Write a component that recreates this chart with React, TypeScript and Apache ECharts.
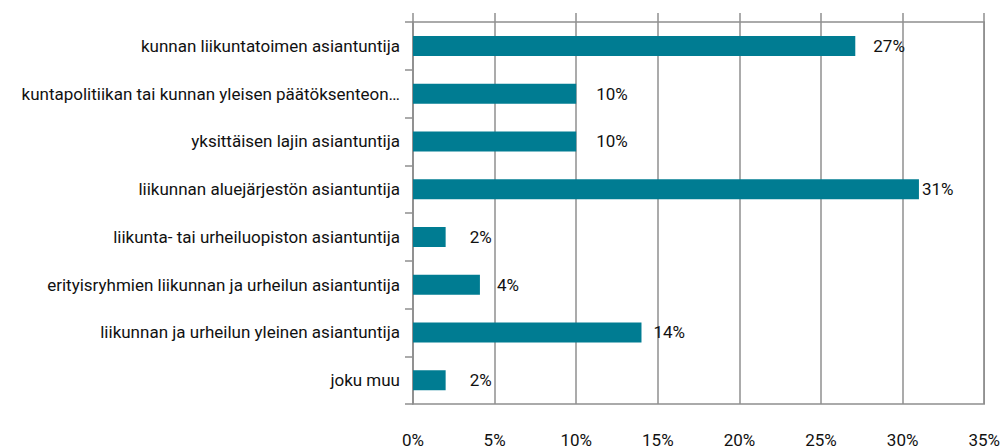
import React, { useEffect, useRef } from "react";
import * as echarts from "echarts";

const categories = [
  "kunnan liikuntatoimen asiantuntija",
  "kuntapolitiikan tai kunnan yleisen päätöksenteon…",
  "yksittäisen lajin asiantuntija",
  "liikunnan aluejärjestön asiantuntija",
  "liikunta- tai urheiluopiston asiantuntija",
  "erityisryhmien liikunnan ja urheilun asiantuntija",
  "liikunnan ja urheilun yleinen asiantuntija",
  "joku muu",
];
const values = [27.1, 10, 10, 31, 2, 4.1, 14, 2];
const valueLabels = ["27%", "10%", "10%", "31%", "2%", "4%", "14%", "2%"];
const xTicks = [0, 5, 10, 15, 20, 25, 30, 35];

// label gaps after bar end (styling)
const labelGaps = [18, 20, 20, 3, 24, 17, 12, 24];

const FONT = "Roboto, 'DejaVu Sans Condensed', sans-serif";
const GRID = "#8f8f8f";

export default function App() {
  const ref = useRef<HTMLDivElement>(null);
  useEffect(() => {
    if (!ref.current) return;
    const chart = echarts.init(ref.current, null, { renderer: "svg" });
    chart.setOption({
      animation: false,
      grid: {
        left: 413,
        top: 22,
        right: 16,
        bottom: 44,
        show: true,
        borderColor: GRID,
        borderWidth: 1.5,
        backgroundColor: "transparent",
      },
      xAxis: [
        {
          type: "value",
          position: "bottom",
          min: xTicks[0],
          max: xTicks[xTicks.length - 1],
          interval: 5,
          axisLine: { show: false },
          axisTick: { show: false },
          axisLabel: {
            margin: 27,
            color: "#111",
            fontFamily: FONT,
            fontSize: 17,
            formatter: (v: number) => `${v}%`,
          },
          splitLine: { show: true, lineStyle: { color: GRID, width: 1.5 } },
        },
        {
          type: "value",
          position: "top",
          min: xTicks[0],
          max: xTicks[xTicks.length - 1],
          interval: 5,
          axisLine: { show: false },
          axisTick: { show: true, length: 9, lineStyle: { color: GRID, width: 1.5 } },
          axisLabel: { show: false },
          splitLine: { show: false },
        },
      ],
      yAxis: {
        type: "category",
        inverse: true,
        data: categories,
        axisLine: { show: true, onZero: false, lineStyle: { color: GRID, width: 1.5 } },
        axisTick: { show: true, length: 8, lineStyle: { color: GRID, width: 1.5 } },
        axisLabel: {
          margin: 13,
          color: "#111",
          fontFamily: FONT,
          fontSize: 17,
        },
      },
      series: [
        {
          type: "bar",
          xAxisIndex: 0,
          barWidth: 20,
          itemStyle: { color: "#007C92" },
          data: values.map((v, i) => ({
            value: v,
            label: {
              show: true,
              position: "right",
              distance: labelGaps[i],
              formatter: valueLabels[i],
              color: "#111",
              fontFamily: FONT,
              fontSize: 17,
            },
          })),
        },
      ],
    });
    return () => chart.dispose();
  }, []);
  return (
    <div
      ref={ref}
      style={{ position: "absolute", left: 0, top: 0, width: 1003, height: 448 }}
    />
  );
}
